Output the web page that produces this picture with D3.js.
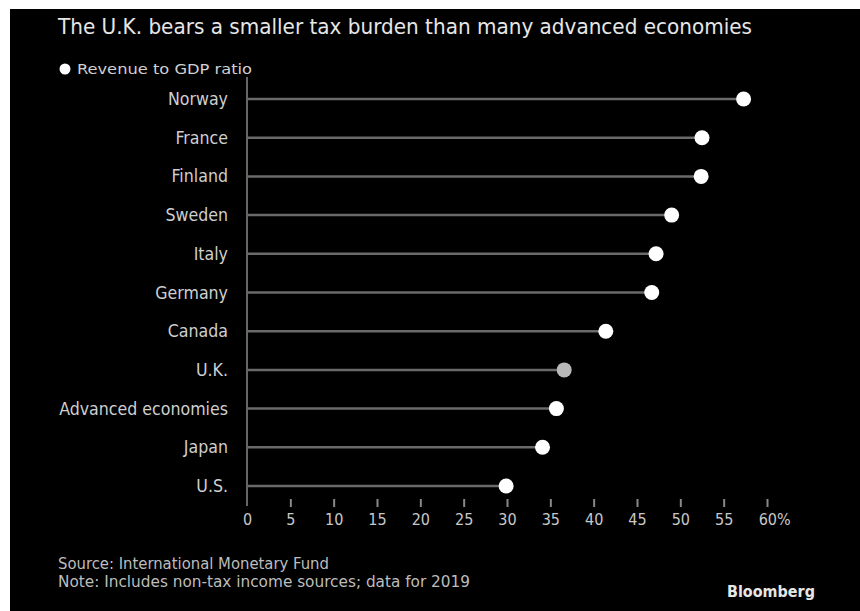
<!DOCTYPE html>
<html>
<head>
<meta charset="utf-8">
<script src="https://cdn.jsdelivr.net/npm/d3@7"></script>
<style>
  html, body { margin: 0; padding: 0; background: #fff; }
  svg { display: block; }
  text { font-family: "DejaVu Sans Condensed", "Liberation Sans Narrow", "DejaVu Sans", sans-serif; }
</style>
</head>
<body>
<div id="chart"></div>
<script>
// data
var countries = ["Norway", "France", "Finland", "Sweden", "Italy", "Germany",
                 "Canada", "U.K.", "Advanced economies", "Japan", "U.S."];
var revenue = [57.3, 52.5, 52.4, 49.0, 47.2, 46.7, 41.4, 36.6, 35.7, 34.1, 29.9];
var highlight = "U.K.";
var tickValues = [0, 5, 10, 15, 20, 25, 30, 35, 40, 45, 50, 55, 60];

var width = 860, height = 611;

var svg = d3.select("#chart").append("svg")
    .attr("width", width)
    .attr("height", height);

//black panel, page shows a thin white edge top and left
svg.append("rect")
    .attr("x", 10).attr("y", 9)
    .attr("width", width - 10).attr("height", height - 9)
    .attr("fill", "#000");

var x = d3.scaleLinear().domain([0, 60]).range([247, 767]);
var y = d3.scalePoint().domain(countries).range([99, 486]);

var data = countries.map(function(c, i){ return {name: c, value: revenue[i]}; });

//Title
svg.append("text")
    .attr("x", 58).attr("y", 34)
    .attr("font-size", 21)
    .attr("fill", "#e6e6e6")
    .attr("textLength", 694)
    .attr("lengthAdjust", "spacingAndGlyphs")
    .text("The U.K. bears a smaller tax burden than many advanced economies");

//Legend
svg.append("circle")
    .attr("cx", 65).attr("cy", 69).attr("r", 5.5)
    .attr("fill", "#fff");
svg.append("text")
    .attr("x", 77).attr("y", 74)
    .attr("font-size", 14.5)
    .attr("fill", "#d0d0d0")
    .attr("textLength", 175)
    .attr("lengthAdjust", "spacingAndGlyphs")
    .text("Revenue to GDP ratio");

//Axis line on the left
svg.append("line")
    .attr("x1", x(0)).attr("x2", x(0))
    .attr("y1", 77).attr("y2", 506)
    .attr("stroke", "#666").attr("stroke-width", 2);

//Bottom ticks
var xAxis = d3.axisBottom(x)
    .tickValues(tickValues)
    .tickSize(8)
    .tickPadding(7)
    .tickFormat(function(d){ return d === 60 ? "60%" : d; });

var gx = svg.append("g")
    .attr("transform", "translate(0,499)")
    .call(xAxis);
gx.select(".domain").remove();
gx.selectAll(".tick line")
    .attr("stroke", "#888").attr("stroke-width", 2)
    .attr("opacity", function(d){ return d === 0 ? 0 : 1; });
gx.selectAll(".tick text")
    .attr("fill", "#c8c8c8")
    .attr("font-size", 16)
    .attr("font-family", "\"DejaVu Sans Condensed\", \"DejaVu Sans\", sans-serif")
    .attr("dx", function(d){ return d === 60 ? "0.45em" : 0; });

//Rows
var rows = svg.selectAll("g.row")
    .data(data)
    .enter().append("g")
    .attr("class", "row")
    .attr("transform", function(d){ return "translate(0," + y(d.name) + ")"; });

rows.append("line")
    .attr("x1", x(0))
    .attr("x2", function(d){ return x(d.value); })
    .attr("stroke", "#6a6a6a")
    .attr("stroke-width", 2.5);

rows.append("text")
    .attr("x", 228)
    .attr("y", 6)
    .attr("text-anchor", "end")
    .attr("font-size", 17.6)
    .attr("fill", "#cfcfcf")
    .text(function(d){ return d.name; });

rows.append("circle")
    .attr("cx", function(d){ return x(d.value); })
    .attr("r", 7.5)
    .attr("fill", function(d){ return d.name === highlight ? "#b8b8b8" : "#fff"; });

//Footer
svg.append("text")
    .attr("x", 58).attr("y", 569)
    .attr("font-size", 16.5)
    .attr("fill", "#bdbdbd")
    .text("Source: International Monetary Fund");
svg.append("text")
    .attr("x", 58).attr("y", 587)
    .attr("font-size", 16.5)
    .attr("fill", "#bdbdbd")
    .attr("textLength", 412)
    .attr("lengthAdjust", "spacingAndGlyphs")
    .text("Note: Includes non-tax income sources; data for 2019");

svg.append("text")
    .attr("x", 815).attr("y", 597)
    .attr("text-anchor", "end")
    .attr("font-size", 15)
    .attr("font-weight", "bold")
    .attr("fill", "#e6e6e6")
    .attr("font-family", "\"Liberation Sans\", Arial, sans-serif")
    .attr("textLength", 88)
    .attr("lengthAdjust", "spacingAndGlyphs")
    .text("Bloomberg");
</script>
</body>
</html>
